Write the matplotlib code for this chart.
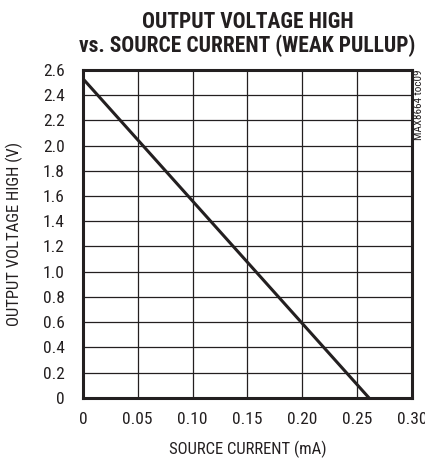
import matplotlib
matplotlib.use("Agg")
import matplotlib.pyplot as plt

plt.rcParams['font.family'] = ['Roboto Condensed', 'Liberation Sans', 'DejaVu Sans']

# data
current_ma = [0.0, 0.261]
voltage_v = [2.53, 0.0]
x_ticks = [0, 0.05, 0.10, 0.15, 0.20, 0.25, 0.30]
x_labels = ["0", "0.05", "0.10", "0.15", "0.20", "0.25", "0.30"]
y_ticks = [0, 0.2, 0.4, 0.6, 0.8, 1.0, 1.2, 1.4, 1.6, 1.8, 2.0, 2.2, 2.4, 2.6]
y_labels = ["0", "0.2", "0.4", "0.6", "0.8", "1.0", "1.2", "1.4", "1.6", "1.8",
            "2.0", "2.2", "2.4", "2.6"]

fig = plt.figure(figsize=(4.25, 4.59), dpi=100)
ax = fig.add_axes([0.195, 0.133, 0.774, 0.715])

ax.plot(current_ma, voltage_v, color="#231f20", lw=2.2, solid_capstyle="butt")

ax.set_xlim(0, 0.30)
ax.set_ylim(0, 2.6)
ax.set_xticks(x_ticks)
ax.set_xticklabels(x_labels)
ax.set_yticks(y_ticks)
ax.set_yticklabels(y_labels)
ax.tick_params(length=0, labelsize=12.5, colors="#231f20")
ax.tick_params(axis="y", pad=13)
ax.tick_params(axis="x", pad=10)
ax.grid(True, color="#231f20", lw=0.9)
for s in ax.spines.values():
    s.set_linewidth(2.2)
    s.set_color("#231f20")

ax.set_xlabel("SOURCE CURRENT (mA)", fontsize=12, color="#231f20", labelpad=10)
ax.set_ylabel("OUTPUT VOLTAGE HIGH (V)", fontsize=12, color="#231f20", labelpad=14)

fig.text(0.582, 0.975, "OUTPUT VOLTAGE HIGH\nvs. SOURCE CURRENT (WEAK PULLUP)",
         ha="center", va="top", fontsize=15.5, fontweight="bold", color="#231f20",
         linespacing=1.05)
fig.text(0.985, 0.848, "MAX8664 toc09", rotation=90, ha="center", va="top",
         fontsize=8, color="#231f20")

fig.savefig("out.png", dpi=100)
